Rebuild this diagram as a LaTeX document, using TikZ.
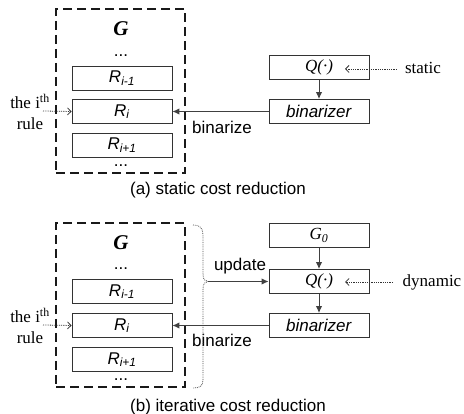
\documentclass[tikz,border=0pt]{standalone}
\usepackage{fontspec}
\setmainfont{Liberation Serif}
\setsansfont{Liberation Sans}
\usetikzlibrary{arrows.meta}

\tikzset{
  every node/.style={font=\sffamily\fontsize{17}{20}\selectfont, inner sep=0pt, text=black},
  serif/.style={font=\rmfamily\fontsize{17}{21}\selectfont},
  bigG/.style={font=\rmfamily\bfseries\itshape\fontsize{21}{24}\selectfont},
  rulebox/.style={draw=black!80, line width=0.9pt, minimum width=100pt, minimum height=24pt},
  frame/.style={draw=black!90, line width=1.7pt, dash pattern=on 9pt off 5pt,
                minimum width=129pt, minimum height=164pt},
  flow/.style={draw=black!75, line width=1pt, -{Latex[length=7pt,width=6.5pt]}},
  hint/.style={draw=black!80, line width=0.8pt, densely dotted,
               -{Straight Barb[length=3.5pt,width=7pt]}},
  dotbrace/.style={draw=black!70, line width=0.8pt, densely dotted}
}

\newcommand{\Rsub}[1]{\textit{R}\textsubscript{\textit{#1}}}

\begin{document}
\begin{tikzpicture}[x=1pt,y=-1pt]
\useasboundingbox (0,0) rectangle (464,414);

% ---------------- (a) static cost reduction ----------------
\node[frame] (ga) at (120.5,91) {};
\node[bigG] (ga-G) at (121,29) {G};
\node[anchor=base] (ga-d1) at (121,57) {...};
\node[rulebox] (ga-r1) at (122,78) {\Rsub{i-1}};
\node[rulebox] (ga-r2) at (122,111.5) {\Rsub{i}};
\node[rulebox] (ga-r3) at (122,145) {\Rsub{i+1}};
\node[anchor=base] (ga-d2) at (121,167) {...};

\node[rulebox] (qa) at (319,67.5) {\textit{\rmfamily Q(·)}\hspace{12pt}};
\node[rulebox] (ba) at (319,111.5) {\textit{binarizer}};
\node[serif] (sta) at (423,68) {static};
\node[serif, align=center] (ria) at (30,112) {the i\textsuperscript{th}\\rule};
\node (bza) at (222,127) {binarize};
\node (capa) at (218,190) {(a) static cost reduction};

\coordinate (ria-from) at (43,111);
\coordinate (sta-from) at (397,69);
\coordinate (qa-in) at (345,69);

\draw[flow] (qa) -- (ba);
\draw[flow] (ba.west) -- (ga-r2.east);
\draw[hint] (ria-from) -- (ga-r2.west);
\draw[hint] (sta-from) -- (qa-in);

% ---------------- (b) iterative cost reduction ----------------
\node[frame] (gb) at (120.5,305) {};
\node[bigG] (gb-G) at (121,243) {G};
\node[anchor=base] (gb-d1) at (121,270) {...};
\node[rulebox] (gb-r1) at (122,291.5) {\Rsub{i-1}};
\node[rulebox] (gb-r2) at (122,325.5) {\Rsub{i}};
\node[rulebox] (gb-r3) at (122,359.5) {\Rsub{i+1}};
\node[anchor=base] (gb-d2) at (121,381) {...};

\node[rulebox] (g0) at (319,235.5) {\rmfamily\textit{G}\textsubscript{\textit{0}}};
\node[rulebox] (qb) at (319,281.5) {\textit{\rmfamily Q(·)}\hspace{12pt}};
\node[rulebox] (bb) at (319,325.5) {\textit{binarizer}};
\node[serif] (dyn) at (432,282) {dynamic};
\node[serif, align=center] (rib) at (30,326) {the i\textsuperscript{th}\\rule};
\node (upd) at (240,266) {update};
\node (bzb) at (222,340) {binarize};
\node (capb) at (228,407) {(b) iterative cost reduction};

\coordinate (br-tip) at (208,281.5);
\coordinate (rib-from) at (43,325);
\coordinate (dyn-from) at (393,282);
\coordinate (qb-in) at (345,282);

% dotted curly brace gathering the rule set
\draw[dotbrace] (193,225) .. controls (200,225) and (203,228) .. (203,235)
  -- (203,274) .. controls (203,279.5) and (205,281.5) .. (br-tip)
  .. controls (205,281.5) and (203,283.5) .. (203,289)
  -- (203,380) .. controls (203,386) and (200,388) .. (193,388);
\draw[flow] (br-tip) -- (qb.west);
\draw[flow] (g0) -- (qb);
\draw[flow] (qb) -- (bb);
\draw[flow] (bb.west) -- (gb-r2.east);
\draw[hint] (rib-from) -- (gb-r2.west);
\draw[hint] (dyn-from) -- (qb-in);
\end{tikzpicture}
\end{document}
